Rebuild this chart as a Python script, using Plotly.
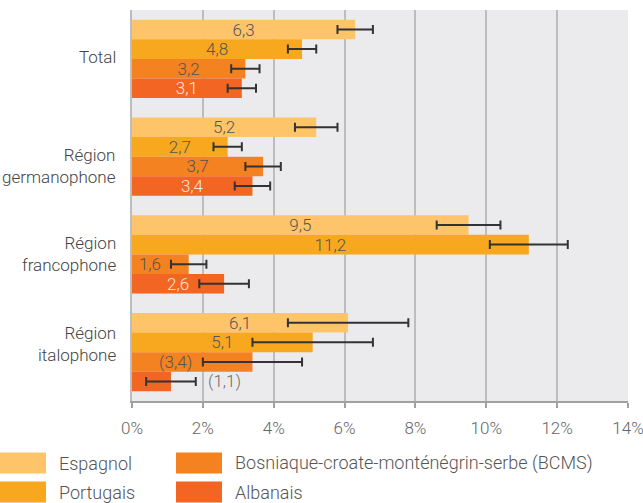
import plotly.graph_objects as go

categories = ["Total", "Région<br>germanophone", "Région<br>francophone", "Région<br>italophone"]
series_names = ["Espagnol", "Portugais", "Bosniaque-croate-monténégrin-serbe (BCMS)", "Albanais"]
colors = ["#FDC46A", "#F7A81E", "#F48220", "#F26522"]
text_colors = ["#555555", "#555555", "#555555", "#FDE8DD"]

espagnol = [6.3, 5.2, 9.5, 6.1]
portugais = [4.8, 2.7, 11.2, 5.1]
bcms = [3.2, 3.7, 1.6, 3.4]
albanais = [3.1, 3.4, 2.6, 1.1]

err_espagnol = [0.5, 0.6, 0.9, 1.7]
err_portugais = [0.4, 0.4, 1.1, 1.7]
err_bcms = [0.4, 0.5, 0.5, 1.4]
err_albanais = [0.4, 0.5, 0.7, 0.7]

NB = "\u00a0"
labels_espagnol = ["6,3", "5,2", "9,5", "6,1"]
labels_portugais = ["4,8", "2,7", "11,2", "5,1"]
labels_bcms = ["3,2", "3,7", "1,6" + NB * 5, "(3,4)" + NB * 8]
labels_albanais = ["3,1", "3,4", "2,6", ""]
outside_label_albanais = "(1,1)"

x_ticks = [0, 2, 4, 6, 8, 10, 12, 14]
x_tick_labels = ["0%", "2%", "4%", "6%", "8%", "10%", "12%", "14%"]

values = [espagnol, portugais, bcms, albanais]
errors = [err_espagnol, err_portugais, err_bcms, err_albanais]
labels = [labels_espagnol, labels_portugais, labels_bcms, labels_albanais]

FONT = "Roboto"
FS = 17
FS_LEG = 18
W, H = 643, 503
L, T = 132, 10
PLOT_R, PLOT_B = 628, 401
R, B = W - PLOT_R, H - PLOT_B
PW, PH = PLOT_R - L, PLOT_B - T

def px2x(px):
    return (px - L) / PW

def py2y(py):
    return (PLOT_B - py) / PH

fig = go.Figure()
for name, vals, errs, labs, col, tcol in zip(series_names, values, errors, labels, colors, text_colors):
    fig.add_trace(go.Bar(
        y=categories, x=vals, orientation="h", name=name,
        marker=dict(color=col, line=dict(width=0)),
        text=labs, textposition="inside", insidetextanchor="middle",
        textfont=dict(family=FONT, size=FS, color=tcol, weight=300),
        error_x=dict(type="data", array=errs, visible=True, color="#333333", thickness=2, width=4.5),
        showlegend=False,
    ))

# outside label for the last Albanais value (4th bar of the group)
band = PH / len(categories)
bar_h = band * 0.8 / len(series_names)
fig.add_annotation(
    x=albanais[3] + err_albanais[3], y=categories[3], xref="x", yref="y",
    text=outside_label_albanais, showarrow=False, xanchor="left", xshift=10,
    yshift=-1.5 * bar_h,
    font=dict(family=FONT, size=FS, color="#6B6B6B", weight=300),
)

# category labels (drawn as annotations to follow the reference's placement)
label_shifts = [2, -9, 0, 8]
for cat, ys in zip(categories, label_shifts):
    fig.add_annotation(
        x=0, xref="paper", y=cat, yref="y", text=cat, showarrow=False,
        xanchor="right", yanchor="middle", align="right", xshift=-14, yshift=ys,
        font=dict(family=FONT, size=FS, color="#444444", weight=300),
    )

# legend built manually (large swatches)
legend_pos = [(0, 463), (0, 492), (176, 463), (176, 492)]
for name, col, (lx, ly) in zip(series_names, colors, legend_pos):
    fig.add_shape(type="rect", xref="paper", yref="paper",
                  x0=px2x(lx), x1=px2x(lx + 46), y0=py2y(ly - 10.5), y1=py2y(ly + 10.5),
                  fillcolor=col, line=dict(width=0), layer="above")
    fig.add_annotation(xref="paper", yref="paper", x=px2x(lx + 57), y=py2y(ly),
                       text=name, showarrow=False, xanchor="left", yanchor="middle",
                       font=dict(family=FONT, size=FS_LEG, color="#555555", weight=300))

fig.update_layout(
    width=W, height=H,
    margin=dict(l=L, r=R, t=T, b=B, pad=0, autoexpand=False),
    paper_bgcolor="white", plot_bgcolor="#EBEBEE",
    barmode="group", bargap=0.2, bargroupgap=0,
    showlegend=False,
    font=dict(family=FONT, size=FS, color="#555555", weight=300),
)
fig.update_traces(constraintext="none", cliponaxis=False)
fig.update_xaxes(
    range=[0, 14], tickvals=x_ticks, ticktext=x_tick_labels, automargin=False,
    showgrid=True, gridcolor="#BDBDBD", gridwidth=2,
    showline=True, linecolor="#A0A0A0", linewidth=2,
    ticks="outside", ticklen=5, tickcolor="#A0A0A0", tickwidth=2,
    ticklabelstandoff=6, ticklabeloverflow="allow",
    tickfont=dict(family=FONT, size=FS, color="#666666", weight=300),
    zeroline=False, fixedrange=True,
)
fig.update_yaxes(
    autorange="reversed", showgrid=False, zeroline=False, showticklabels=False, automargin=False,
    showline=True, linecolor="#BDBDBD", linewidth=2, ticks="", fixedrange=True,
)
fig.write_html(
    "out.html",
    config={"displayModeBar": False},
    post_script="document.body.style.margin='0';document.body.style.overflow='hidden';",
)
